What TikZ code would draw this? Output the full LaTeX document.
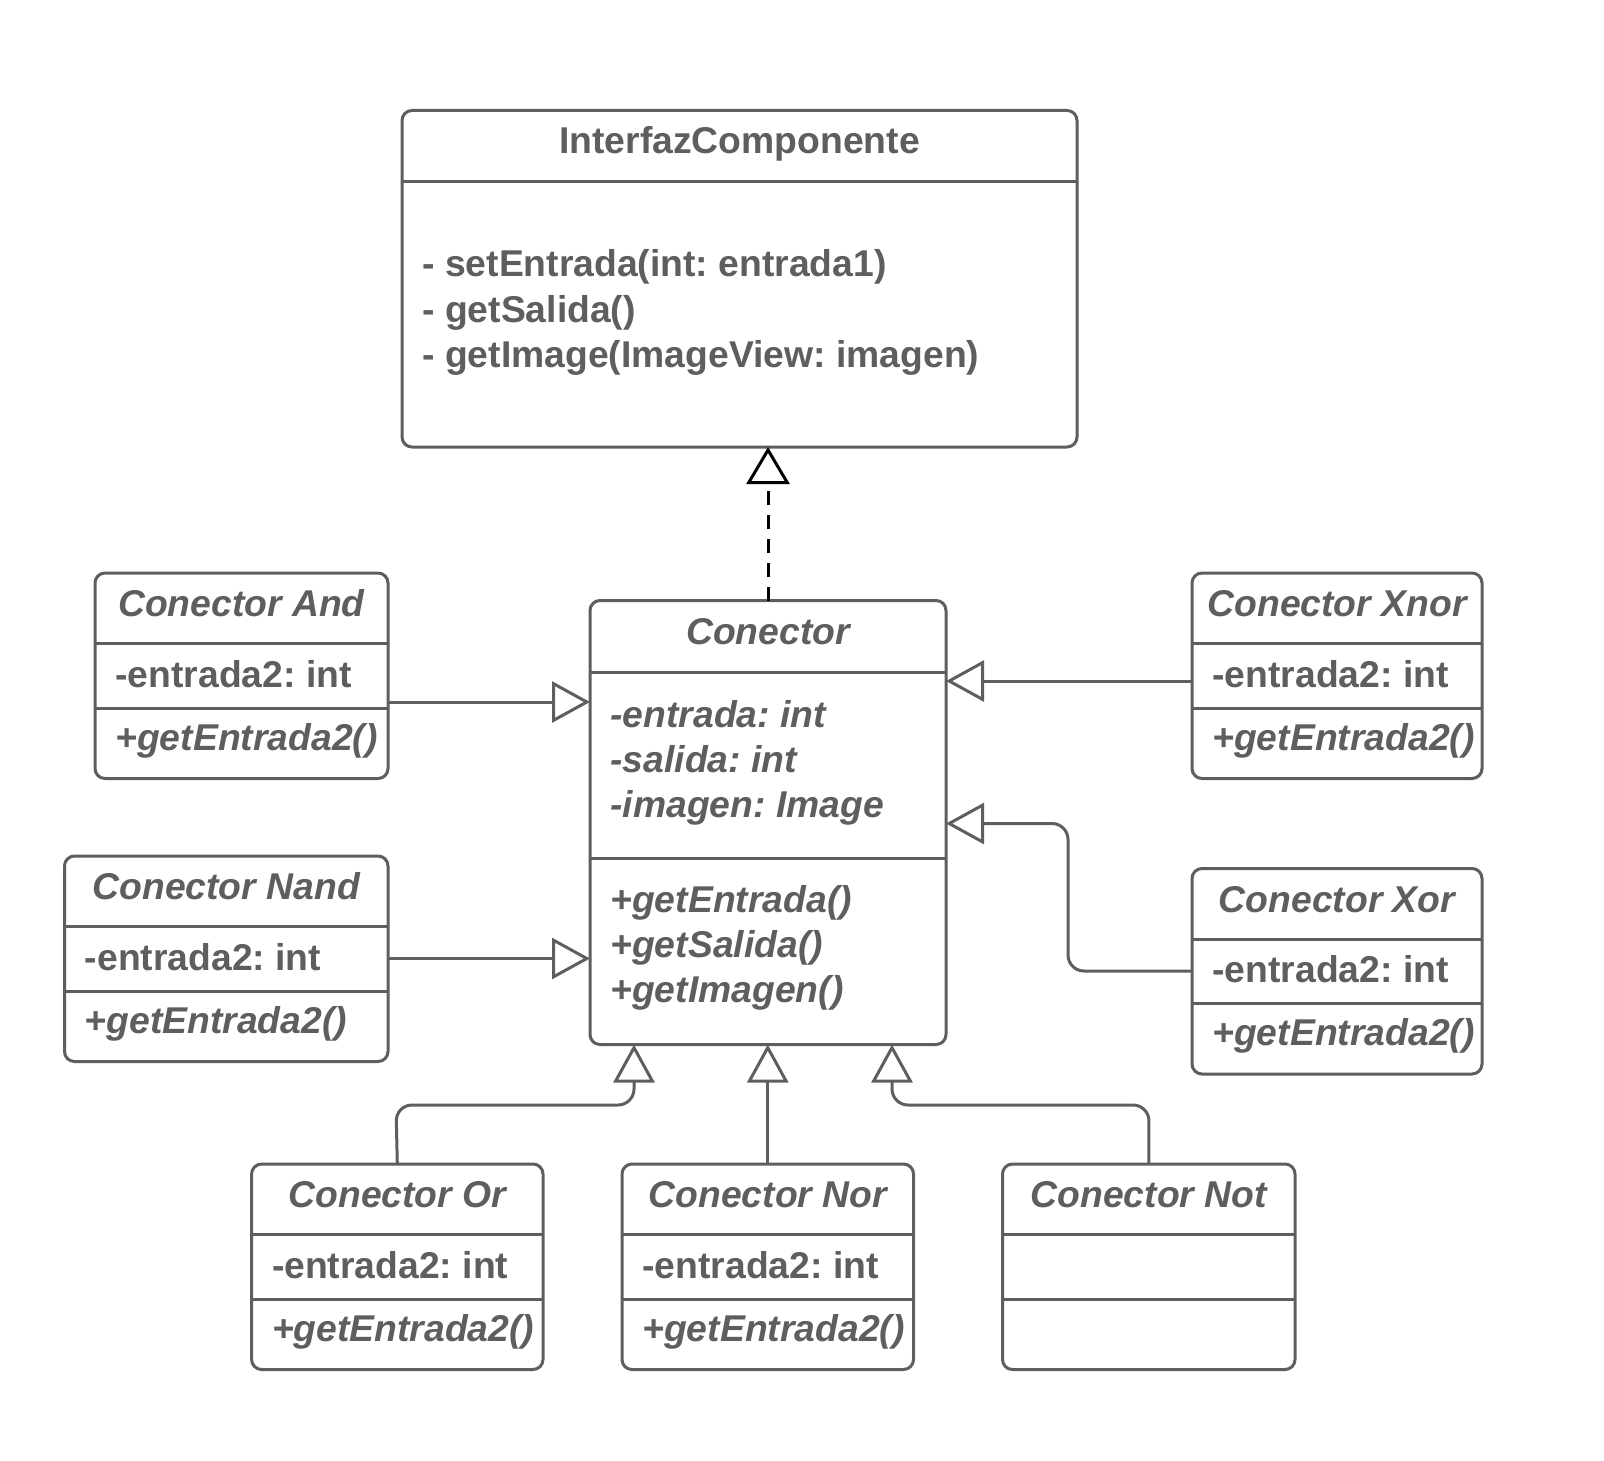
\documentclass[tikz,border=0pt]{standalone}
\usepackage{fontspec}
\setmainfont{Liberation Sans}
\usetikzlibrary{arrows.meta,fit}
\definecolor{umlgray}{HTML}{5E5E5E}
\frenchspacing

\tikzset{
  classbox/.style={draw=umlgray, line width=1.5pt, rounded corners=5pt,
    inner sep=0pt, outer sep=0pt},
  umlline/.style={draw=umlgray, line width=1.5pt},
  txt/.style={text=umlgray, inner sep=0pt,
    font=\fontsize{18.65pt}{22.5pt}\selectfont\bfseries},
  itxt/.style={txt, font=\fontsize{18.65pt}{22.5pt}\selectfont\bfseries\itshape},
  gen/.style={draw=umlgray, line width=1.5pt,
    -{Triangle[length=19pt, width=20.5pt, fill=white]}},
  real/.style={draw=black, line width=1.5pt, dash pattern=on 7pt off 5pt,
    -{Triangle[length=18.5pt, width=21.5pt, fill=white]}},
}

% A class with a title, one attribute row and one method row
% #1 name, #2 left, #3 top, #4 right, #5 title, #6 attribute, #7 method
\newcommand\gateclass[7]{%
  \pgfmathsetmacro\gcbot{#3+205.5}%
  \pgfmathsetmacro\gcla{#3+70.5}%
  \pgfmathsetmacro\gclb{#3+135}%
  \pgfmathsetmacro\gcmid{(#2+#4)/2}%
  \pgfmathsetmacro\gctx{#2+20}%
  \pgfmathsetmacro\gcta{#3+43.5}%
  \pgfmathsetmacro\gctb{#3+114}%
  \pgfmathsetmacro\gctc{#3+177}%
  \node[classbox, fit={(#2,#3) (#4,\gcbot)}] (#1) {};
  \draw[umlline] (#1.west |- 0,\gcla) -- (#1.east |- 0,\gcla);
  \draw[umlline] (#1.west |- 0,\gclb) -- (#1.east |- 0,\gclb);
  \node[itxt, anchor=base] (#1-t) at (\gcmid,\gcta) {#5};
  \node[txt, anchor=base west] (#1-a) at (\gctx,\gctb) {#6};
  \node[itxt, anchor=base west] (#1-m) at (\gctx,\gctc) {#7};
}

\begin{document}
\begin{tikzpicture}[x=0.5pt, y=-0.5pt]
\useasboundingbox (0,0) rectangle (1604,1460);
\fill[white] (0,0) rectangle (1604,1460);

% interface
\node[classbox, fit={(402,110.5) (1077,447)}] (iface) {};
\draw[umlline] (iface.west |- 0,182) -- (iface.east |- 0,182);
\node[txt, anchor=base] (iface-t) at (739.5,154) {InterfazComponente};
\node[txt, anchor=base west] (iface-m1) at (422,277) {- setEntrada(int: entrada1)};
\node[txt, anchor=base west] (iface-m2) at (422,322) {- getSalida()};
\node[txt, anchor=base west] (iface-m3) at (422,367) {- getImage(ImageView: imagen)};

% abstract connector
\node[classbox, fit={(590,600.5) (946,1044.5)}] (con) {};
\draw[umlline] (con.west |- 0,672) -- (con.east |- 0,672);
\draw[umlline] (con.west |- 0,858) -- (con.east |- 0,858);
\node[itxt, anchor=base] (con-t) at (768,644) {Conector};
\node[itxt, anchor=base west] (con-a1) at (610,727) {-entrada: int};
\node[itxt, anchor=base west] (con-a2) at (610,772) {-salida: int};
\node[itxt, anchor=base west] (con-a3) at (610,817) {-imagen: Image};
\node[itxt, anchor=base west] (con-m1) at (610,912) {+getEntrada()};
\node[itxt, anchor=base west] (con-m2) at (610,957) {+getSalida()};
\node[itxt, anchor=base west] (con-m3) at (610,1002) {+getImagen()};

% concrete connectors
\gateclass{cand}{95}{573}{388}{Conector And}{-entrada2: int}{+getEntrada2()}
\gateclass{cnand}{64.5}{856}{388}{Conector Nand}{-entrada2: int}{+getEntrada2()}
\gateclass{cxnor}{1192}{573}{1482}{Conector Xnor}{-entrada2: int}{+getEntrada2()}
\gateclass{cxor}{1192}{868.5}{1482}{Conector Xor}{-entrada2: int}{+getEntrada2()}
\gateclass{cor}{251.6}{1164}{543}{Conector Or}{-entrada2: int}{+getEntrada2()}
\gateclass{cnor}{622}{1164}{913.5}{Conector Nor}{-entrada2: int}{+getEntrada2()}
\gateclass{cnot}{1002.5}{1164}{1295}{Conector Not}{}{}

% realization
\draw[real] (con.north) -- (iface.south -| con.north);

% generalizations
\draw[gen] (cand.east |- 0,702) -- (con.west |- 0,702);
\draw[gen] (cnand.east |- 0,958.5) -- (con.west |- 0,958.5);
\draw[gen] (cxnor.west |- 0,681) -- (con.east |- 0,681);
\draw[gen, rounded corners=8pt] (cxor.west |- 0,971) -- (1068,971) -- (1068,823.5)
  -- (con.east |- 0,823.5);
\draw[gen, rounded corners=8pt] (cor.north) -- (396,1105) -- (634,1105)
  -- (con.south -| 634,0);
\draw[gen] (cnor.north) -- (con.south -| cnor.north);
\draw[gen, rounded corners=8pt] (cnot.north) -- (1149,1105) -- (892,1105)
  -- (con.south -| 892,0);
\end{tikzpicture}
\end{document}
